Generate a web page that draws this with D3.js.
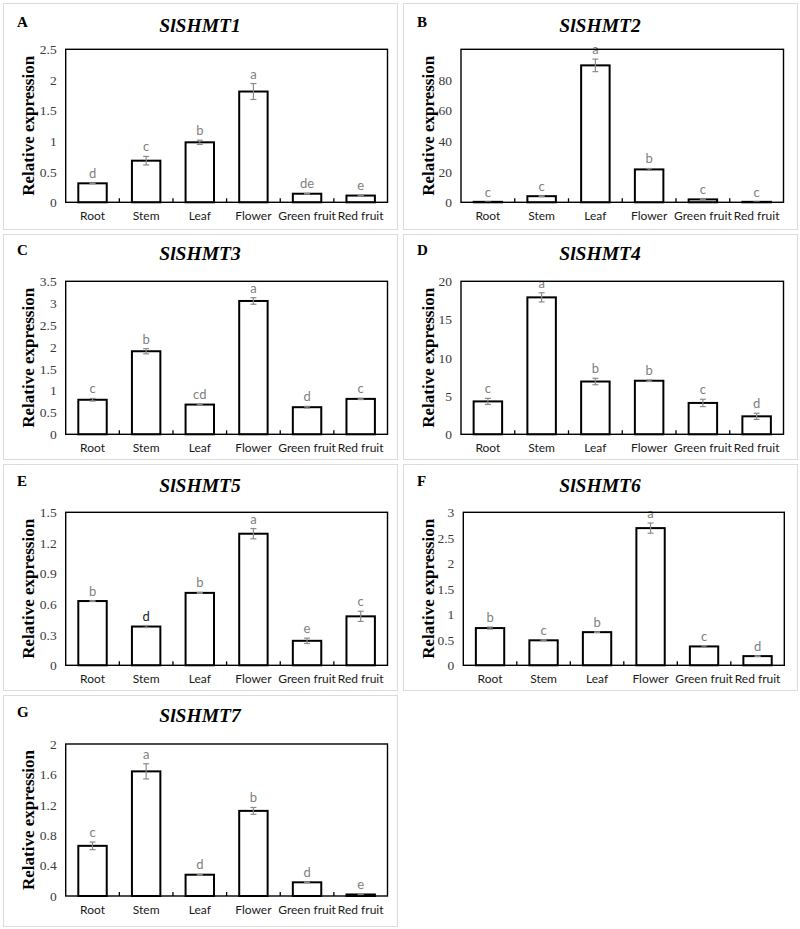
<!DOCTYPE html>
<html>
<head>
<meta charset="utf-8">
<script src="https://cdn.jsdelivr.net/npm/d3@7"></script>
<style>
  html, body { margin: 0; padding: 0; background: #fff; }
  svg { display: block; }
</style>
</head>
<body>
<svg id="chart" width="800" height="929"></svg>
<script>
// ---------------- DATA ----------------
const categories = ["Root", "Stem", "Leaf", "Flower", "Green fruit", "Red fruit"];
const panelLetters = ["A", "B", "C", "D", "E", "F", "G"];
const genes = ["SlSHMT1", "SlSHMT2", "SlSHMT3", "SlSHMT4", "SlSHMT5", "SlSHMT6", "SlSHMT7"];

const values1 = [0.31, 0.68, 0.98, 1.81, 0.14, 0.11];
const errors1 = [0.005, 0.07, 0.035, 0.13, 0.005, 0.005];
const letters1 = ["d", "c", "b", "a", "de", "e"];
const ticks1 = [0, 0.5, 1, 1.5, 2, 2.5];

const values2 = [0.3, 4.0, 89.5, 21.5, 1.9, 0.3];
const errors2 = [0.1, 0.25, 4.1, 0.6, 0.25, 0.1];
const letters2 = ["c", "c", "a", "b", "c", "c"];
const ticks2 = [0, 20, 40, 60, 80];

const values3 = [0.79, 1.90, 0.68, 3.05, 0.62, 0.81];
const errors3 = [0.03, 0.06, 0.01, 0.075, 0.02, 0.015];
const letters3 = ["c", "b", "cd", "a", "d", "c"];
const ticks3 = [0, 0.5, 1, 1.5, 2, 2.5, 3, 3.5];

const values4 = [4.3, 17.9, 6.9, 7.0, 4.1, 2.35];
const errors4 = [0.4, 0.6, 0.42, 0.1, 0.48, 0.4];
const letters4 = ["c", "a", "b", "b", "c", "d"];
const ticks4 = [0, 5, 10, 15, 20];

const values5 = [0.63, 0.38, 0.71, 1.29, 0.24, 0.48];
const errors5 = [0.003, 0.01, 0.005, 0.05, 0.026, 0.05];
const letters5 = ["b", "d", "b", "a", "e", "c"];
const ticks5 = [0, 0.3, 0.6, 0.9, 1.2, 1.5];

const values6 = [0.73, 0.49, 0.65, 2.69, 0.37, 0.18];
const errors6 = [0.02, 0.01, 0.005, 0.1, 0.015, 0.005];
const letters6 = ["b", "c", "b", "a", "c", "d"];
const ticks6 = [0, 0.5, 1, 1.5, 2, 2.5, 3];

const values7 = [0.66, 1.64, 0.28, 1.12, 0.18, 0.02];
const errors7 = [0.05, 0.1, 0.005, 0.045, 0.005, 0.005];
const letters7 = ["c", "a", "d", "b", "d", "e"];
const ticks7 = [0, 0.4, 0.8, 1.2, 1.6, 2];

const yMaxes = [2.5, 100, 3.5, 20, 1.5, 3, 2];

// ---------------- LAYOUT ----------------
const seriesValues = [values1, values2, values3, values4, values5, values6, values7];
const seriesErrors = [errors1, errors2, errors3, errors4, errors5, errors6, errors7];
const seriesLetters = [letters1, letters2, letters3, letters4, letters5, letters6, letters7];
const seriesTicks = [ticks1, ticks2, ticks3, ticks4, ticks5, ticks6, ticks7];

const boxes = [
  {x: 3, y: 3, w: 394, h: 226},
  {x: 403, y: 3, w: 394, h: 226},
  {x: 3, y: 234, w: 394, h: 225},
  {x: 403, y: 234, w: 394, h: 225},
  {x: 3, y: 464, w: 394, h: 226},
  {x: 403, y: 464, w: 394, h: 226},
  {x: 3, y: 695, w: 394, h: 231}
];
const frames = [
  {l: 65.7, r: 387.5, t: 49.3, b: 202.3},
  {l: 461, r: 783.5, t: 49.3, b: 202.3},
  {l: 65.7, r: 387.5, t: 281.3, b: 434.3},
  {l: 461, r: 783.5, t: 281.3, b: 434.3},
  {l: 65.7, r: 387.5, t: 512.3, b: 665.3},
  {l: 463.3, r: 784.3, t: 512.3, b: 665.3},
  {l: 65.7, r: 387.5, t: 744, b: 896}
];
const titleBaselines = [32, 32, 260, 260, 492, 492, 722];
const letterBaselines = [27, 27, 254.5, 254.5, 486, 486, 717];

const svg = d3.select("#chart");
const serif = "'Liberation Serif', 'Times New Roman', serif";
const sans = "Lato, 'Noto Sans', sans-serif";

for (let i = 0; i < 7; i++) {
  const box = boxes[i], f = frames[i];
  const vals = seriesValues[i], errs = seriesErrors[i], lets = seriesLetters[i];
  const g = svg.append("g");

  g.append("rect")
    .attr("x", box.x + 0.5).attr("y", box.y + 0.5)
    .attr("width", box.w).attr("height", box.h)
    .attr("fill", "none").attr("stroke", "#dcdcdc").attr("stroke-width", 1);

  g.append("text")
    .attr("x", box.x + 14).attr("y", letterBaselines[i])
    .style("font-family", serif).style("font-weight", "bold").style("font-size", "15px")
    .attr("fill", "#000")
    .text(panelLetters[i]);

  g.append("text")
    .attr("x", box.x + box.w / 2).attr("y", titleBaselines[i])
    .attr("text-anchor", "middle")
    .style("font-family", serif).style("font-weight", "bold").style("font-style", "italic")
    .style("font-size", "19.5px").attr("fill", "#000")
    .text(genes[i]);

  const x = d3.scaleBand().domain(categories).range([f.l, f.r]).paddingInner(0.47).paddingOuter(0.235);
  const y = d3.scaleLinear().domain([0, yMaxes[i]]).range([f.b, f.t]);

  const yAxis = d3.axisLeft(y).tickValues(seriesTicks[i]).tickSize(0).tickPadding(9)
    .tickFormat(d => String(d));
  const ya = g.append("g").attr("transform", `translate(${f.l},0)`).call(yAxis);
  ya.select(".domain").remove();
  ya.selectAll("text").style("font-family", serif).style("font-size", "13.5px").attr("fill", "#3a3a3a");

  const xAxis = d3.axisBottom(x).tickSize(0).tickPadding(9);
  const xa = g.append("g").attr("transform", `translate(0,${f.b})`).call(xAxis);
  xa.select(".domain").remove();
  xa.selectAll("text").style("font-family", sans).style("font-size", "12px").attr("fill", "#1a1a1a");

  g.append("text")
    .attr("transform", `translate(${box.x + 31},${(f.t + f.b) / 2}) rotate(-90)`)
    .attr("text-anchor", "middle")
    .style("font-family", serif).style("font-weight", "bold").style("font-size", "17px")
    .attr("fill", "#000")
    .text("Relative expression");

  g.selectAll("rect.bar").data(vals).enter().append("rect")
    .attr("class", "bar")
    .attr("x", (d, j) => x(categories[j]))
    .attr("y", d => y(d))
    .attr("width", x.bandwidth())
    .attr("height", d => f.b - y(d))
    .attr("fill", "#fff").attr("stroke", "#000").attr("stroke-width", 2);

  const eg = g.append("g").attr("stroke", "#8c8c8c").attr("stroke-width", 1.2);
  vals.forEach((v, j) => {
    const cx = x(categories[j]) + x.bandwidth() / 2;
    const y1 = y(v + errs[j]), y2 = y(Math.max(0, v - errs[j]));
    eg.append("line").attr("x1", cx).attr("x2", cx).attr("y1", y1).attr("y2", y2);
    eg.append("line").attr("x1", cx - 3).attr("x2", cx + 3).attr("y1", y1).attr("y2", y1);
    eg.append("line").attr("x1", cx - 3).attr("x2", cx + 3).attr("y1", y2).attr("y2", y2);
  });

  g.selectAll("text.sig").data(lets).enter().append("text")
    .attr("class", "sig")
    .attr("x", (d, j) => x(categories[j]) + x.bandwidth() / 2)
    .attr("y", (d, j) => y(vals[j] + errs[j]) - 5)
    .attr("text-anchor", "middle")
    .style("font-family", sans).style("font-size", "13px")
    .attr("fill", (d, j) => (i === 4 && j === 1) ? "#222" : "#808080")
    .text(d => d);

  for (let k = 1; k < categories.length; k++) {
    const tx = f.l + (f.r - f.l) * k / categories.length;
    g.append("line").attr("x1", tx).attr("x2", tx).attr("y1", f.b - 4).attr("y2", f.b)
      .attr("stroke", "#000").attr("stroke-width", 1.3);
  }

  g.append("rect")
    .attr("x", f.l).attr("y", f.t).attr("width", f.r - f.l).attr("height", f.b - f.t)
    .attr("fill", "none").attr("stroke", "#000").attr("stroke-width", 1.4);
}
</script>
</body>
</html>
